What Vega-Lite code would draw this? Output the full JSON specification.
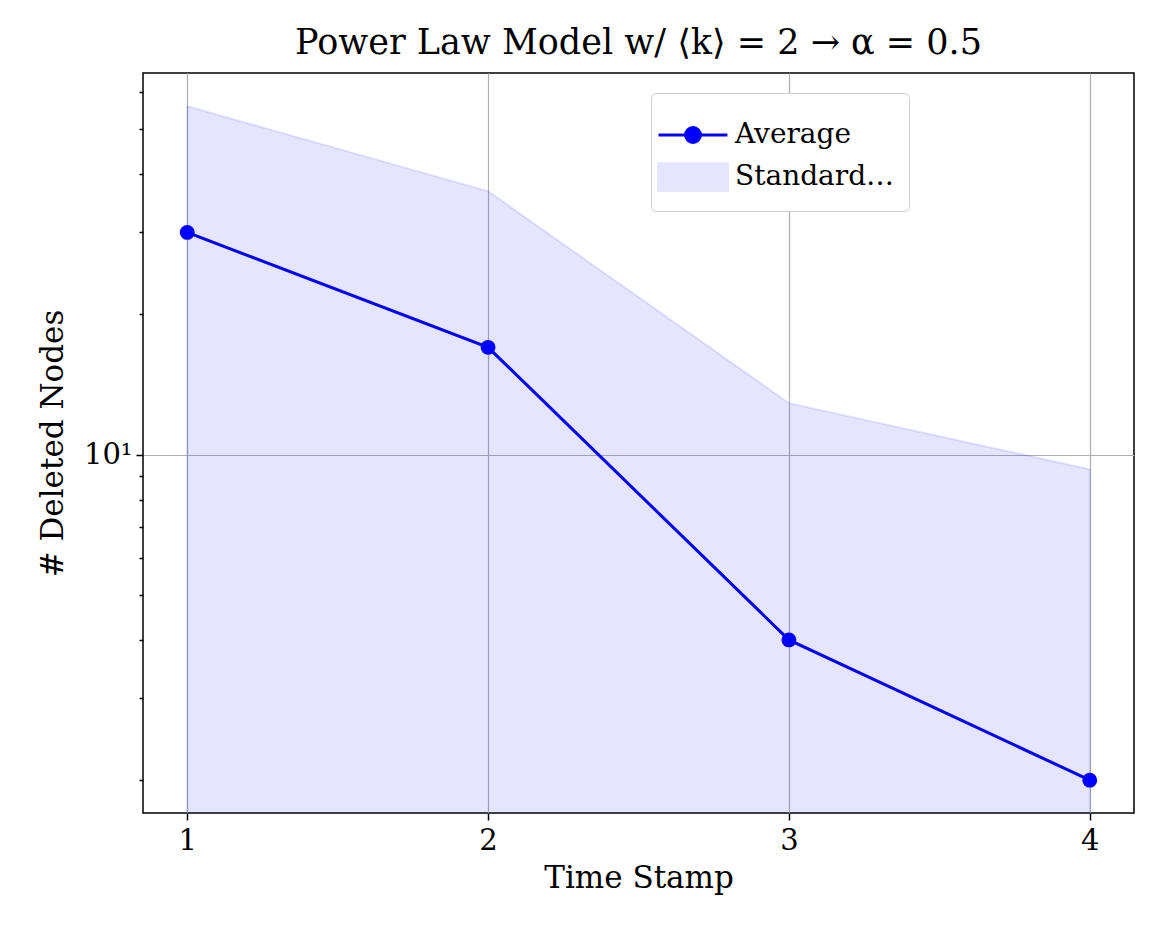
{
  "$schema": "https://vega.github.io/schema/vega-lite/v6.json",
  "width": 991,
  "height": 740,
  "autosize": "none",
  "padding": {"left": 143, "top": 73, "right": 20, "bottom": 124},
  "background": "white",
  "config": {
    "font": "DejaVu Serif",
    "view": {"stroke": "black", "strokeWidth": 1.5},
    "axis": {"labelFont": "DejaVu Serif", "titleFont": "DejaVu Serif", "labelFontSize": 29, "titleFontSize": 31, "titleFontWeight": "normal", "labelColor": "black", "titleColor": "black", "domain": false, "tickColor": "black", "tickWidth": 1.5, "gridColor": "#b0b0b0", "gridWidth": 1.2},
    "title": {"font": "DejaVu Serif", "fontSize": 35, "fontWeight": "normal"},
    "legend": {"labelFont": "DejaVu Serif", "labelFontSize": 28, "labelColor": "black"}
  },
  "title": {"text": "Power Law Model w/ ⟨k⟩ = 2 → α = 0.5", "offset": 12},
  "data": {"values": [
    {"t": 1, "avg": 30, "upper": 56, "lower": 1.0},
    {"t": 2, "avg": 17, "upper": 36.8, "lower": 1.0},
    {"t": 3, "avg": 4, "upper": 12.9, "lower": 1.0},
    {"t": 4, "avg": 2, "upper": 9.3, "lower": 1.0}
  ]},
  "encoding": {
    "x": {"field": "t", "type": "quantitative", "title": "Time Stamp",
      "scale": {"domain": [0.853, 4.147], "nice": false, "zero": false},
      "axis": {"values": [1, 2, 3, 4], "tickSize": 7, "labelPadding": 6, "titlePadding": 8}},
    "color": {
      "field": "series", "type": "nominal",
      "scale": {"domain": ["Average", "Standard Deviation"], "range": ["blue", "#e5e5ff"]},
      "legend": {
        "title": null, "orient": "none", "legendX": 508, "legendY": 20,
        "padding": 14, "cornerRadius": 5, "strokeColor": "#cccccc", "fillColor": "white",
        "symbolSize": 2800, "labelOffset": 14, "rowPadding": 0,
        "encode": {"symbols": {"update": {
          "shape": {"signal": "datum.label == 'Average' ? 'M-1.3,0H1.3M-0.28,0A0.28,0.28,0,1,1,0.28,0A0.28,0.28,0,1,1,-0.28,0' : 'M-1.3,-0.5H1.3V0.5H-1.3Z'"},
          "fill": {"signal": "datum.label == 'Average' ? 'blue' : 'rgba(0,0,255,0.1)'"},
          "stroke": {"signal": "datum.label == 'Average' ? 'blue' : 'rgba(0,0,255,0.15)'"},
          "strokeWidth": {"value": 3},
          "opacity": {"value": 1}
        }}}
      }
    }
  },
  "layer": [
    {
      "transform": [{"calculate": "'Standard Deviation'", "as": "series"}],
      "mark": {"type": "area", "clip": true, "fill": "blue", "fillOpacity": 0.1, "stroke": "blue", "strokeOpacity": 0.1, "strokeWidth": 2},
      "encoding": {
        "y": {"field": "upper", "type": "quantitative", "scale": {"type": "log", "domain": [1.7, 66], "nice": false}},
        "y2": {"field": "lower"}
      }
    },
    {
      "transform": [{"calculate": "'Average'", "as": "series"}],
      "mark": {"type": "line", "point": {"size": 220, "filled": true, "opacity": 1}, "strokeWidth": 3},
      "encoding": {
        "y": {"field": "avg", "type": "quantitative", "title": "# Deleted Nodes",
          "axis": {
            "values": [2, 3, 4, 5, 6, 7, 8, 9, 10, 20, 30, 40, 50, 60],
            "labelExpr": "datum.value == 10 ? '10¹' : ''",
            "tickSize": {"condition": {"test": "datum.value == 10", "value": 7}, "value": 4},
            "gridOpacity": {"condition": {"test": "datum.value == 10", "value": 1}, "value": 0},
            "titlePadding": 14, "labelPadding": 4
          }}
      }
    }
  ]
}
